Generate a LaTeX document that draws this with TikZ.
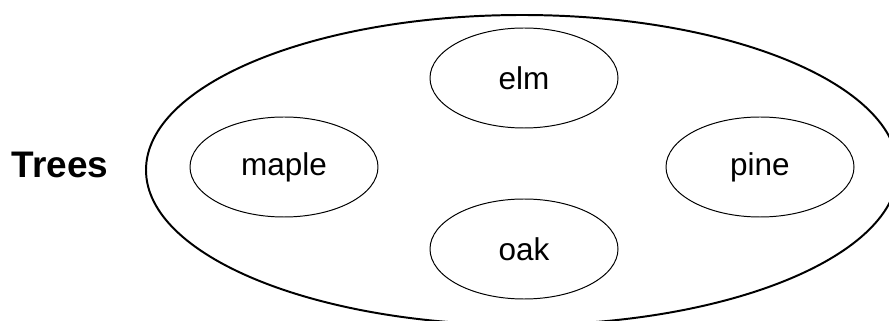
\documentclass[tikz,border=0pt]{standalone}
\usepackage{fontspec}
\setmainfont{Liberation Sans}
\usetikzlibrary{shapes.geometric}
\begin{document}
\begin{tikzpicture}[tree/.style={draw,ellipse,line width=0.7pt,minimum width=4.7cm,minimum height=2.5cm,inner sep=0pt,font=\fontsize{22.4}{26}\selectfont}]
    \useasboundingbox (0,0) rectangle (22.225,8.025);
    \node[draw,ellipse,line width=1.4pt,minimum width=18.8cm,minimum height=7.75cm] (set) at (13.05,3.775) {};
    \node at (1.5,3.9) (trees) {\fontsize{26.3}{30}\selectfont\bfseries Trees};
\node[tree] (maple) at (7.1,3.85) {maple};
\node[tree] (elm) at (13.1,6.075) {elm};
\node[tree] (oak) at (13.1,1.8) {oak};
\node[tree] (pine) at (19.0,3.85) {pine};


\end{tikzpicture}
\end{document}
